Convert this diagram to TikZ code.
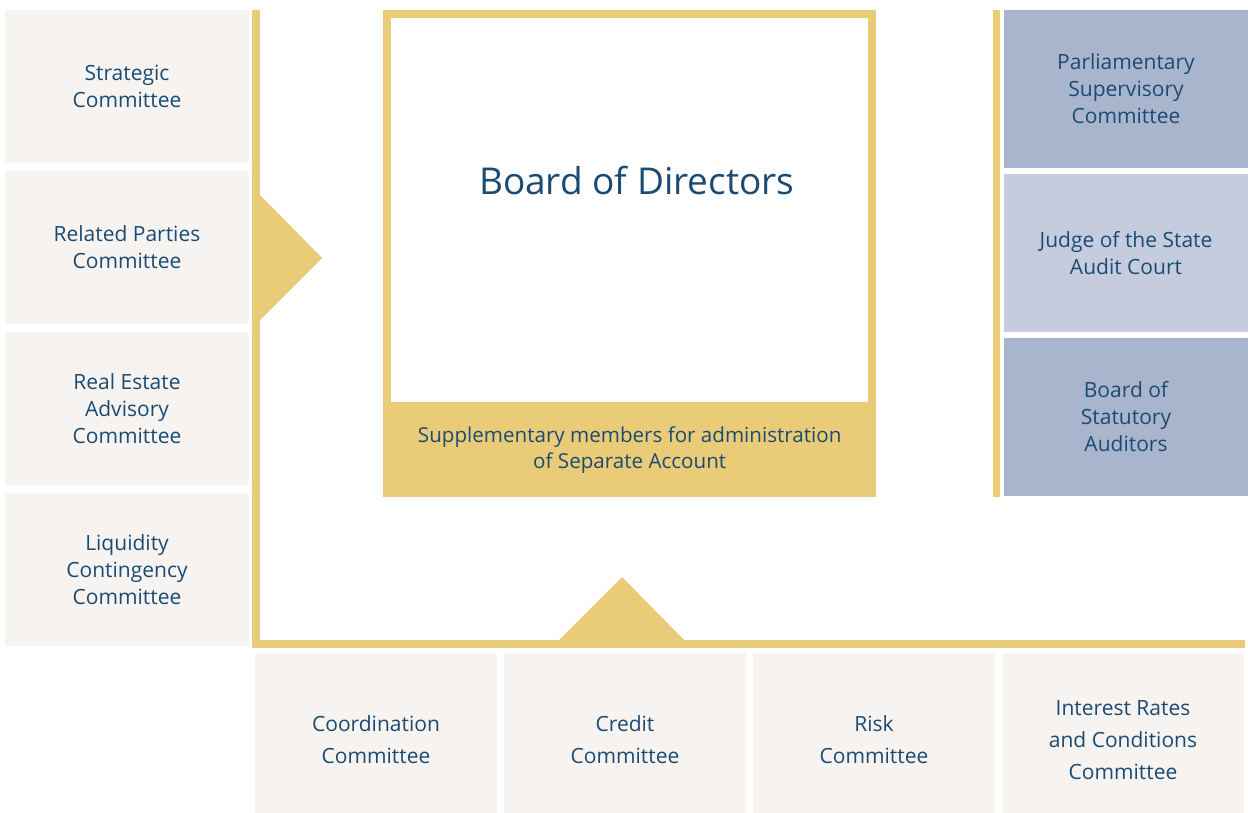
\documentclass[tikz,border=0pt]{standalone}
\usepackage{fontspec}
\setmainfont{Open Sans}
\usetikzlibrary{positioning}
\definecolor{gold}{HTML}{EACB77}
\definecolor{cream}{HTML}{F6F3F0}
\definecolor{slate}{HTML}{A9B5CD}
\definecolor{mist}{HTML}{C5CCDE}
\definecolor{navy}{HTML}{1B4B73}
\tikzset{committee/.style=
   {rectangle,
    fill=cream,
    text=navy,
    align=center,
    inner sep=0pt,
    outer sep=0pt,
    minimum width=244pt,
    minimum height=153pt,
    font=\fontsize{21}{27}\selectfont}}
\tikzset{lowcommittee/.style=
   {committee,
    minimum width=242pt,
    minimum height=174pt,
    font=\fontsize{21}{32}\selectfont}}
\tikzset{auditor/.style=
   {committee,
    minimum width=244pt,
    minimum height=158pt}}
\tikzset{goldline/.style = {draw=gold, line width=8pt}}
\tikzset{pointer/.style = {fill=gold}}

\begin{document}
\begin{tikzpicture}[x=1pt, y=-1pt]

    \useasboundingbox (0,0) rectangle (1248,812);

    % left column
    \node [committee, anchor=north west] (strategic) at (5,10)
    {Strategic\\Committee};
    \node [committee, below=8pt of strategic] (related)
    {Related Parties\\Committee};
    \node [committee, below=8pt of related] (realestate)
    {Real Estate\\Advisory\\Committee};
    \node [committee, below=8pt of realestate] (liquidity)
    {Liquidity\\Contingency\\Committee};

    % board
    \node [rectangle, fill=gold, anchor=north west, inner sep=0pt,
           minimum width=493pt, minimum height=487pt] (frame) at (383,10) {};
    \node [rectangle, fill=white, anchor=north west, inner sep=0pt,
           minimum width=477pt, minimum height=384pt] (board) at (391,18) {};
    \node [text=navy, font=\fontsize{37}{40}\selectfont]
          (title) at ([xshift=7pt, yshift=30pt]board.center) {Board of Directors};
    \node [committee, fill=gold, below=0pt of board,
           minimum width=493pt, minimum height=95pt, font=\fontsize{20.6}{26}\selectfont] (supp)
    {Supplementary members for administration\\of Separate Account};

    % right column
    \node [auditor, fill=slate, anchor=north west] (parliament) at (1004,10)
    {Parliamentary\\Supervisory\\Committee};
    \node [auditor, fill=mist, below=6pt of parliament] (judge)
    {Judge of the State\\Audit Court};
    \node [auditor, fill=slate, below=6pt of judge] (auditors)
    {Board of\\Statutory\\Auditors};

    % bottom row
    \node [lowcommittee, anchor=north west] (coordination) at (255,653)
    {Coordination\\Committee};
    \node [lowcommittee, right=7pt of coordination] (credit)
    {Credit\\Committee};
    \node [lowcommittee, right=7pt of credit] (risk)
    {Risk\\Committee};
    \node [lowcommittee, right=7pt of risk] (rates)
    {Interest Rates\\and Conditions\\Committee};

    % gold lines and pointers
    \coordinate (lefttop) at (256,10);
    \coordinate (corner) at (256,643.5);
    \coordinate (rightend) at (1245,643.5);
    \draw [goldline] (lefttop) -- (corner) -- (rightend);
    \coordinate (audtop) at (996.5,10);
    \coordinate (audbot) at (996.5,497);
    \draw [goldline, line width=7pt] (audtop) -- (audbot);

    \coordinate (rtip) at (322,258);
    \fill [pointer] (260,195) -- (rtip) -- (260,320) -- cycle;
    \coordinate (utip) at (622,577);
    \fill [pointer] (558,641) -- (utip) -- (685,641) -- cycle;

\end{tikzpicture}
\end{document}
